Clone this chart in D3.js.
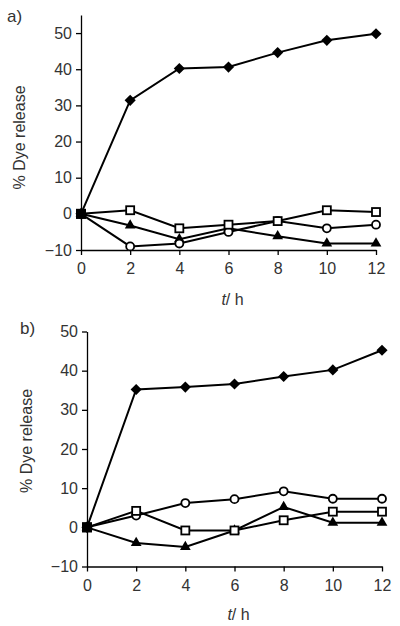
<!DOCTYPE html>
<html><head><meta charset="utf-8">
<script src="https://cdn.jsdelivr.net/npm/d3@7"></script>
<style>body{margin:0;background:#fff}svg{display:block}text{font-family:"Liberation Sans",Arial,sans-serif;fill:#333}</style>
</head><body>
<script>
const times = [0, 2, 4, 6, 8, 10, 12];
const xTicks = [0, 2, 4, 6, 8, 10, 12];
const yTicks = [-10, 0, 10, 20, 30, 40, 50];
// panel a
const aDiamond = [0, 31.4, 40.2, 40.6, 44.6, 48, 49.8];
const aSquare = [0, 1, -4, -3, -2, 1, 0.5];
const aCircle = [0, -9, -8.2, -5, -2, -4, -3];
const aTriangle = [0, -3.2, -7, -4, -6.2, -8.2, -8.2];
// panel b
const bDiamond = [0, 35.2, 35.8, 36.6, 38.5, 40.2, 45.2];
const bSquare = [0, 4.2, -0.8, -0.8, 1.8, 4, 4];
const bCircle = [0, 3, 6.2, 7.2, 9.2, 7.3, 7.3];
const bTriangle = [0, -4, -5, -0.8, 5.2, 1.2, 1.2];

const svg = d3.select("body").append("svg").attr("width", 400).attr("height", 626);

function panel(cfg) {
  const x = d3.scaleLinear().domain([0, 12]).range([cfg.x0, cfg.x1]);
  const y = d3.scaleLinear().domain([-10, cfg.yMax]).range([cfg.yBottom, cfg.yTop]);
  const g = svg.append("g");
  const ya = g.append("g").attr("transform", `translate(${cfg.x0},0)`)
    .call(d3.axisLeft(y).tickValues(yTicks).tickSize(5).tickSizeOuter(0).tickPadding(4));
  const xa = g.append("g").attr("transform", `translate(0,${cfg.yBottom})`)
    .call(d3.axisBottom(x).tickValues(xTicks).tickSize(5).tickSizeOuter(0).tickPadding(8));
  [ya, xa].forEach(a => {
    a.select(".domain").attr("stroke", "#000").attr("stroke-width", 1.3);
    a.selectAll(".tick line").attr("stroke", "#000").attr("stroke-width", 1.3);
    a.selectAll("text").style("font-size", "16px").attr("fill", "#333");
  });
  const line = d3.line().x((d, i) => x(times[i])).y(d => y(d));
  const series = [
    {v: cfg.triangle, m: "tri"},
    {v: cfg.circle, m: "circ"},
    {v: cfg.square, m: "sq"},
    {v: cfg.diamond, m: "dia"}
  ];
  series.forEach(s => {
    g.append("path").datum(s.v).attr("d", line).attr("fill", "none")
      .attr("stroke", "#000").attr("stroke-width", 2);
  });
  series.forEach(s => {
    s.v.forEach((d, i) => {
      const cx = x(times[i]), cy = y(d);
      if (s.m === "dia") {
        g.append("path").attr("d", d3.symbol(d3.symbolSquare, 62)())
          .attr("transform", `translate(${cx},${cy}) rotate(45)`).attr("fill", "#000");
      } else if (s.m === "tri") {
        g.append("path").attr("d", d3.symbol(d3.symbolTriangle, 50)())
          .attr("transform", `translate(${cx},${cy})`).attr("fill", "#000");
      } else if (s.m === "sq") {
        g.append("rect").attr("x", cx - 4).attr("y", cy - 4).attr("width", 8).attr("height", 8)
          .attr("fill", "#fff").attr("stroke", "#000").attr("stroke-width", 1.8);
      } else {
        g.append("circle").attr("cx", cx).attr("cy", cy).attr("r", 4)
          .attr("fill", "#fff").attr("stroke", "#000").attr("stroke-width", 1.8);
      }
    });
  });
  g.append("rect").attr("x", x(0) - 5).attr("y", y(0) - 5).attr("width", 10).attr("height", 10).attr("fill", "#000");
  g.append("text").attr("x", cfg.tagX).attr("y", cfg.tagY).style("font-size", "17px").attr("fill", "#111").text(cfg.tag);
  g.append("text").attr("transform", `translate(${cfg.ylabX},${(cfg.yTop + cfg.yBottom) / 2 + cfg.ylabDy}) rotate(-90)`)
    .attr("text-anchor", "middle").style("font-size", "16px").text("% Dye release");
  const xl = g.append("text").attr("x", (cfg.x0 + cfg.x1) / 2 + 4).attr("y", cfg.xlabY)
    .attr("text-anchor", "middle").style("font-size", "16px");
  xl.append("tspan").style("font-style", "italic").text("t");
  xl.append("tspan").text("/ h");
}

panel({x0: 81, x1: 376, yTop: 15, yBottom: 250, yMax: 55,
  diamond: aDiamond, square: aSquare, circle: aCircle, triangle: aTriangle,
  tag: "a)", tagX: 7, tagY: 22, ylabX: 25, ylabDy: 5, xlabY: 305});
panel({x0: 87, x1: 382, yTop: 331.5, yBottom: 566.5, yMax: 50,
  diamond: bDiamond, square: bSquare, circle: bCircle, triangle: bTriangle,
  tag: "b)", tagX: 20, tagY: 334, ylabX: 32, ylabDy: -8, xlabY: 620});
</script>
</body></html>
